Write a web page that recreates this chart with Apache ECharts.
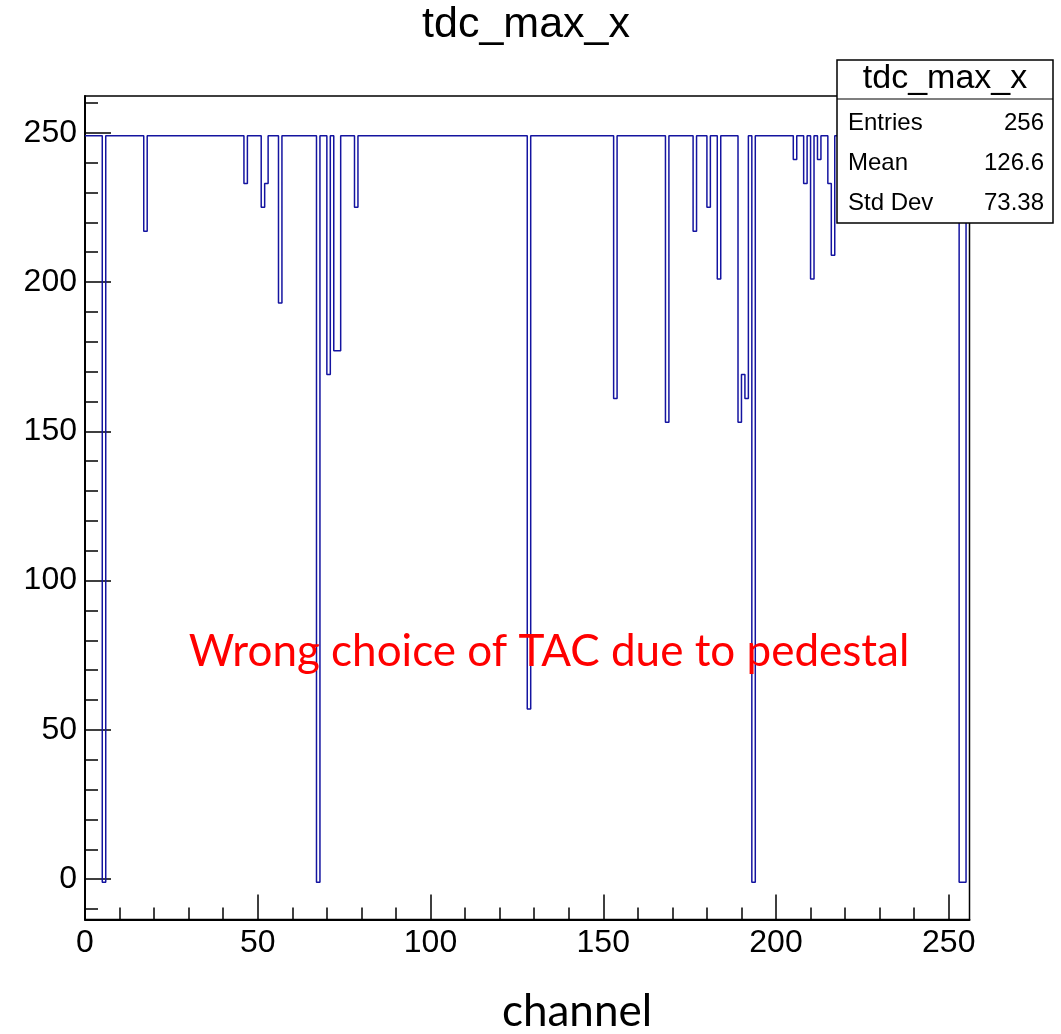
<!DOCTYPE html>
<html>
<head>
<meta charset="utf-8">
<script src="https://cdn.jsdelivr.net/npm/echarts@6/dist/echarts.min.js"></script>
<style>
html,body{margin:0;padding:0;background:#fff;}
#chart{width:1061px;height:1034px;}
</style>
</head>
<body>
<div id="chart"></div>
<script>
// ---- data (bin contents of tdc_max_x, channels 0..255) ----
const binCount = 256;
const baseValue = 249;
// channels that differ from the plateau value
const dipChannels = [5, 17, 46, 51, 52, 56, 67, 70, 72, 73, 78, 128, 153, 168, 176, 180, 183, 189, 190, 191, 193, 205, 208, 210, 212, 215, 216, 253, 254];
const dipValues   = [-1, 217, 233, 225, 233, 193, -1, 169, 177, 177, 225, 57, 161, 153, 217, 225, 201, 153, 169, 161, -1, 241, 233, 201, 241, 233, 209, -1, -1];

const xMajorTicks = [0, 50, 100, 150, 200, 250];
const xMinorTicks = [10, 20, 30, 40, 60, 70, 80, 90, 110, 120, 130, 140, 160, 170, 180, 190, 210, 220, 230, 240];
const yMajorTicks = [0, 50, 100, 150, 200, 250];
const yMinorTicks = [-10, 10, 20, 30, 40, 60, 70, 80, 90, 110, 120, 130, 140, 160, 170, 180, 190, 210, 220, 230, 240, 260];

const statsTitle = 'tdc_max_x';
const statsLabels = ['Entries', 'Mean', 'Std Dev'];
const statsValues = ['256', '126.6', '73.38'];

// ---- build histogram outline ----
const bins = new Array(binCount).fill(baseValue);
dipChannels.forEach((c, k) => { bins[c] = dipValues[k]; });
const histData = bins.map((v, i) => [i, v]);
histData.push([binCount, bins[binCount - 1]]);

const black = '#000';
const helv = '"Liberation Sans", Arial, Helvetica, sans-serif';
const calib = 'Lato, "Open Sans", sans-serif';

const chart = echarts.init(document.getElementById('chart'), null, {renderer: 'canvas'});

const gridL = 85, gridT = 96, gridR = 969.5, gridB = 919.5;

const statsGraphics = [];
statsGraphics.push({
  type: 'rect', z: 100,
  shape: {x: 837, y: 60, width: 216, height: 163},
  style: {fill: '#fff', stroke: black, lineWidth: 1.5}
});
statsGraphics.push({
  type: 'line', z: 101,
  shape: {x1: 837, y1: 99, x2: 1053, y2: 99},
  style: {stroke: black, lineWidth: 1.2}
});
statsGraphics.push({
  type: 'text', z: 102, x: 945, y: 79,
  style: {text: statsTitle, font: '34px ' + helv, fill: black, align: 'center', verticalAlign: 'middle'}
});
statsLabels.forEach((lab, k) => {
  statsGraphics.push({
    type: 'text', z: 102, x: 848, y: 123 + 40 * k,
    style: {text: lab, font: '24px ' + helv, fill: black, align: 'left', verticalAlign: 'middle'}
  });
  statsGraphics.push({
    type: 'text', z: 102, x: 1044, y: 123 + 40 * k,
    style: {text: statsValues[k], font: '24px ' + helv, fill: black, align: 'right', verticalAlign: 'middle'}
  });
});

const option = {
  animation: false,
  backgroundColor: '#fff',
  grid: {
    left: gridL, top: gridT, width: gridR - gridL, height: gridB - gridT,
    show: true, borderColor: black, borderWidth: 1.5, backgroundColor: 'transparent'
  },
  xAxis: [
    {
      type: 'value', min: 0, max: binCount, position: 'bottom',
      axisLine: {show: true, onZero: false, lineStyle: {color: black, width: 2}},
      axisTick: {show: true, inside: true, length: 25, customValues: xMajorTicks, lineStyle: {color: black, width: 1.5}},
      axisLabel: {show: true, customValues: xMajorTicks, margin: 8, fontSize: 32, fontFamily: helv, color: black},
      splitLine: {show: false}
    },
    {
      type: 'value', min: 0, max: binCount, position: 'bottom',
      axisLine: {show: false, onZero: false},
      axisTick: {show: true, inside: true, length: 12, customValues: xMinorTicks, lineStyle: {color: black, width: 1.5}},
      axisLabel: {show: false},
      splitLine: {show: false}
    }
  ],
  yAxis: [
    {
      type: 'value', min: -13.5, max: 262.3, position: 'left',
      axisLine: {show: true, onZero: false, lineStyle: {color: black, width: 2}},
      axisTick: {show: true, inside: true, length: 26, customValues: yMajorTicks, lineStyle: {color: black, width: 1.5}},
      axisLabel: {show: true, customValues: yMajorTicks, margin: 8, fontSize: 32, fontFamily: helv, color: black},
      splitLine: {show: false}
    },
    {
      type: 'value', min: -13.5, max: 262.3, position: 'left',
      axisLine: {show: false, onZero: false},
      axisTick: {show: true, inside: true, length: 13, customValues: yMinorTicks, lineStyle: {color: black, width: 1.5}},
      axisLabel: {show: false},
      splitLine: {show: false}
    }
  ],
  series: [{
    type: 'line', xAxisIndex: 0, yAxisIndex: 0,
    step: 'end', symbol: 'none', data: histData,
    lineStyle: {color: '#1414a0', width: 1.5},
    clip: true, z: 5
  }],
  graphic: [
    {
      type: 'text', x: 526, y: 25,
      style: {text: 'tdc_max_x', font: '43px ' + helv, fill: black, align: 'center', verticalAlign: 'middle'}
    },
    {
      type: 'text', x: 549, y: 652, z: 50,
      style: {text: 'Wrong choice of TAC due to pedestal', font: '44px ' + calib, fill: '#ff0000', align: 'center', verticalAlign: 'middle'}
    },
    {
      type: 'text', x: 577, y: 1012,
      style: {text: 'channel', font: '44px ' + calib, fill: black, align: 'center', verticalAlign: 'middle'}
    }
  ].concat(statsGraphics)
};
chart.setOption(option);
</script>
</body>
</html>
